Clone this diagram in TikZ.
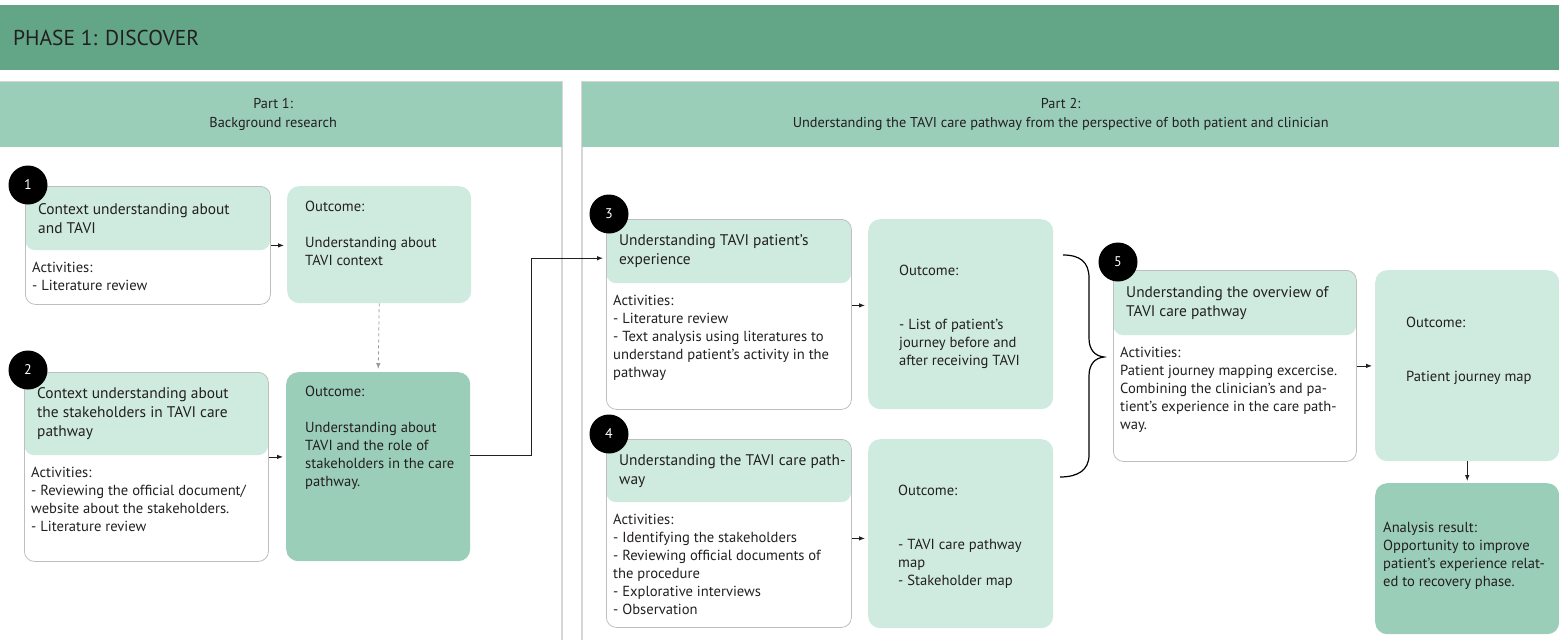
\documentclass[tikz,border=0pt]{standalone}
\usepackage{fontspec}
\setmainfont{PT Sans}
\usetikzlibrary{arrows.meta}

\definecolor{verdeos}{RGB}{99,166,135}
\definecolor{verdemed}{RGB}{155,206,184}
\definecolor{verdeclaro}{RGB}{207,235,223}
\definecolor{grisborde}{RGB}{190,190,190}
\definecolor{grispanel}{RGB}{214,214,214}
\definecolor{tinta}{RGB}{35,31,32}

\tikzset{
  banda/.style={inner sep=0pt, anchor=north west, minimum height=65pt},
  caja/.style={draw=grisborde, line width=0.8pt, rounded corners=10pt, inner sep=0pt, minimum width=245pt, anchor=north west},
  titulo/.style={fill=verdeclaro, rounded corners=10pt, inner sep=0pt, minimum width=245pt, anchor=north west},
  resultado/.style={fill=verdeclaro, rounded corners=12pt, inner sep=0pt, minimum width=184pt, anchor=north west},
  texto/.style={align=left, inner sep=0pt, text=tinta, font=\fontsize{14.6}{18}\selectfont},
  textotit/.style={texto, anchor=west, font=\fontsize{15.4}{19}\selectfont},
  numero/.style={circle, fill=black, text=white, inner sep=0pt, minimum size=39pt, font=\fontsize{14}{14}\selectfont},
  flecha/.style={draw=tinta, line width=0.8pt, -{Latex[length=6pt,width=4.5pt]}, shorten >=3pt},
}

\begin{document}
\begin{tikzpicture}[x=1pt, y=-1pt]
  \useasboundingbox (0,0) rectangle (1559,640);

  % Bandas y paneles
  \node[banda, fill=verdeos, minimum width=1559pt] (fase) at (0,5) {};
  \node[texto, anchor=west, font=\fontsize{21.5}{22}\selectfont] (fasetxt) at ([xshift=13pt]fase.west) {PHASE 1: DISCOVER};
  \draw[grispanel, line width=1.2pt] (-2,82) rectangle (562,645);
  \draw[grispanel, line width=1.2pt] (582,82) rectangle (1562,645);
  \node[banda, fill=verdemed, minimum width=562pt] (parte1) at (0,82) {};
  \node[banda, fill=verdemed, minimum width=977pt] (parte2) at (582,82) {};
  \node[texto, align=center, font=\fontsize{14.3}{19}\selectfont] (parte1txt) at ([xshift=-8pt]parte1.center) {Part 1:\\Background research};
  \node[texto, align=center, font=\fontsize{14.3}{19}\selectfont] (parte2txt) at ([xshift=-10pt]parte2.center) {Part 2:\\Understanding the TAVI care pathway from the perspective of both patient and clinician};

  % Paso 1
  \node[titulo, minimum height=64pt] (tit1) at (25,186) {};
  \node[caja, minimum height=118pt] (paso1) at (tit1.north west) {};
  \node[textotit] (tt1) at ([xshift=13pt]tit1.west) {Context understanding about\\and TAVI};
  \node[texto, anchor=north west] (act1) at ([shift={(7,12)}]tit1.south west) {Activities:\\- Literature review};
  \node[resultado, minimum height=117pt] (res1) at (287,186) {};
  \node[texto, anchor=north west] (rt1) at ([shift={(18,15)}]res1.north west) {Outcome:\\[18pt]Understanding about\\TAVI context};

  % Paso 2
  \node[titulo, minimum height=83pt, minimum width=244pt] (tit2) at (24,372) {};
  \node[caja, minimum height=189pt, minimum width=244pt] (paso2) at (tit2.north west) {};
  \node[textotit] (tt2) at ([xshift=13pt]tit2.west) {Context understanding about\\the stakeholders in TAVI care\\pathway};
  \node[texto, anchor=north west] (act2) at ([shift={(7,12)}]tit2.south west) {Activities:\\- Reviewing the official document/\\website about the stakeholders.\\- Literature review};
  \node[resultado, fill=verdemed, minimum height=189pt] (res2) at (286,372) {};
  \node[texto, anchor=north west] (rt2) at ([shift={(19,14)}]res2.north west) {Outcome:\\[18pt]Understanding about\\TAVI and the role of\\stakeholders in the care\\pathway.};

  % Paso 3
  \node[titulo, minimum height=64pt] (tit3) at (606,219) {};
  \node[caja, minimum height=190pt] (paso3) at (tit3.north west) {};
  \node[textotit] (tt3) at ([xshift=13pt]tit3.west) {Understanding TAVI patient’s\\experience};
  \node[texto, anchor=north west] (act3) at ([shift={(7,12)}]tit3.south west) {Activities:\\- Literature review\\- Text analysis using literatures to\\understand patient’s activity in the\\pathway};
  \node[resultado, minimum height=190pt, minimum width=185pt] (res3) at (868,219) {};
  \node[texto, anchor=west] (rt3) at ([shift={(31,3)}]res3.west) {Outcome:\\[36pt]- List of patient’s\\journey before and\\after receiving TAVI};

  % Paso 4
  \node[titulo, minimum height=63pt] (tit4) at (606,439) {};
  \node[caja, minimum height=188pt] (paso4) at (tit4.north west) {};
  \node[textotit] (tt4) at ([xshift=13pt]tit4.west) {Understanding the TAVI care path-\\way};
  \node[texto, anchor=north west] (act4) at ([shift={(7,12)}]tit4.south west) {Activities:\\- Identifying the stakeholders\\- Reviewing official documents of\\the procedure\\- Explorative interviews\\- Observation};
  \node[resultado, minimum height=189pt, minimum width=185pt] (res4) at (868,439) {};
  \node[texto, anchor=west] (rt4) at ([shift={(30,3)}]res4.west) {Outcome:\\[36pt]- TAVI care pathway\\map\\- Stakeholder map};

  % Paso 5
  \node[titulo, minimum height=65pt, minimum width=243pt] (tit5) at (1113,270) {};
  \node[caja, minimum height=191pt, minimum width=243pt] (paso5) at (tit5.north west) {};
  \node[textotit] (tt5) at ([xshift=13pt]tit5.west) {Understanding the overview of\\TAVI care pathway};
  \node[texto, anchor=north west] (act5) at ([shift={(7,12)}]tit5.south west) {Activities:\\Patient journey mapping excercise.\\Combining the clinician’s and pa-\\tient’s experience in the care path-\\way.};
  \node[resultado, minimum height=191pt] (res5) at (1375,270) {};
  \node[texto, anchor=north west] (rt5) at ([shift={(31,47)}]res5.north west) {Outcome:\\[36pt]Patient journey map};
  \node[resultado, fill=verdemed, minimum height=151pt] (analisis) at (1375,483) {};
  \node[texto, anchor=west] (at) at ([shift={(8,-3)}]analisis.west) {Analysis result:\\Opportunity to improve\\patient’s experience relat-\\ed to recovery phase.};

  % Flechas
  \draw[flecha] (paso1.east) -- (res1.west |- paso1.east);
  \draw[flecha, draw=gray!80, dashed] (res1.south) -- (res2.north);
  \draw[flecha] ([yshift=10pt]paso2.east) -- ([yshift=10pt]paso2.east -| res2.west);
  \draw[flecha] ([yshift=11pt]res2.east) -- ++(61,0) |- ([yshift=-7pt]tit3.west);
  \draw[flecha] ([yshift=9pt]paso3.east) -- ([yshift=9pt]paso3.east -| res3.west);
  \draw[flecha] ([yshift=-5pt]paso4.east) -- ([yshift=-5pt]paso4.east -| res4.west);
  \draw[flecha] (paso5.east) -- (res5.west |- paso5.east);
  \draw[flecha, shorten >=2pt] (res5.south) -- (analisis.north);

  % Llave
  \draw[line width=1.2pt] (1063,255) .. controls (1080,255) and (1089,262) .. (1089,278) -- (1089,338)
    .. controls (1089,350) and (1095,356) .. (1104,357) .. controls (1095,358) and (1089,364) .. (1089,376)
    -- (1089,455) .. controls (1089,470) and (1078,477) .. (1060,477);

  % Numeros
  \node[numero] (n1) at ([shift={(3,-1)}]paso1.north west) {1};
  \node[numero] (n2) at ([shift={(4,-2)}]paso2.north west) {2};
  \node[numero] (n3) at ([shift={(3,-5)}]paso3.north west) {3};
  \node[numero] (n4) at ([shift={(3,-5)}]paso4.north west) {4};
  \node[numero] (n5) at ([shift={(5,-8)}]paso5.north west) {5};
\end{tikzpicture}
\end{document}
